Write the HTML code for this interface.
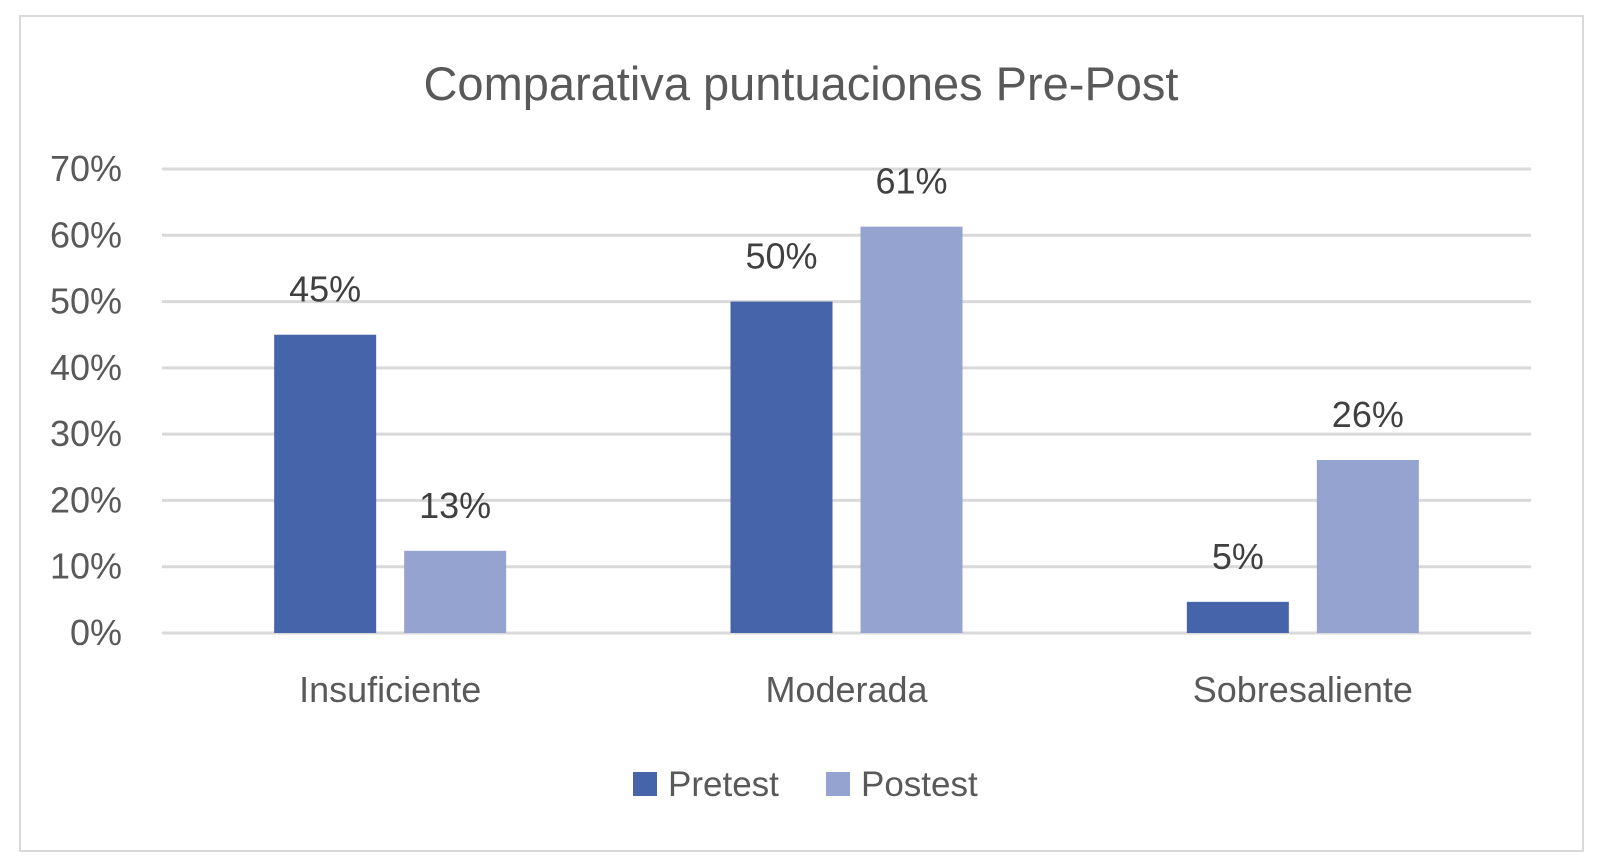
<!DOCTYPE html>
<html><head><meta charset="utf-8"><style>
html,body{margin:0;padding:0;background:#fff;}
svg{display:block;font-family:"Liberation Sans",sans-serif;}
</style></head><body>
<svg id="chart" width="1600" height="864" viewBox="0 0 1600 864">
<rect x="20" y="16" width="1563" height="835" fill="#fff" stroke="#d9d9d9" stroke-width="2"/>
<text x="801" y="100" text-anchor="middle" font-size="47" fill="#595959">Comparativa puntuaciones Pre-Post</text>
<g id="grid"></g><g id="bars"></g><g id="labels"></g>
<g>
<rect x="633" y="772" width="24" height="24" fill="#4564a9"/>
<text x="668" y="796" font-size="35" fill="#595959">Pretest</text>
<rect x="826" y="772" width="24" height="24" fill="#94a3d0"/>
<text x="861" y="796" font-size="35" fill="#595959">Postest</text>
</g>
</svg>
<script>
const categories=["Insuficiente","Moderada","Sobresaliente"];
const pretest=[45,50,4.7];
const postest=[12.4,61.3,26.1];
const pretestLabels=["45%","50%","5%"];
const postestLabels=["13%","61%","26%"];
const ticks=[0,10,20,30,40,50,60,70];
const NS="http://www.w3.org/2000/svg";
const x0=162,x1=1531,y0=633,yMax=70,yTop=169;
const y=v=>y0-(v/yMax)*(y0-yTop);
const band=(x1-x0)/categories.length;
function mk(tag,attrs,parent,txt){const e=document.createElementNS(NS,tag);for(const k in attrs)e.setAttribute(k,attrs[k]);if(txt!==undefined)e.textContent=txt;parent.appendChild(e);return e;}
const grid=document.getElementById('grid'),bars=document.getElementById('bars'),labels=document.getElementById('labels');
ticks.forEach(t=>{
 const l=mk('line',{x1:x0,x2:x1,y1:y(t),y2:y(t),stroke:'#d9d9d9','stroke-width':3},grid);
 
 
 const tx=mk('text',{x:122,y:y(t)+12,'text-anchor':'end','font-size':36,fill:'#595959'},grid,t+'%');
 
 
});
const bw=102,gap=28;
categories.forEach((c,i)=>{
 const cx=x0+band*(i+0.5);
 const series=[[pretest[i],'#4564a9',pretestLabels[i],'pretest',cx-gap/2-bw],[postest[i],'#94a3d0',postestLabels[i],'postest',cx+gap/2]];
 series.forEach(s=>{
  const r=mk('rect',{x:s[4],y:y(s[0]),width:bw,height:y0-y(s[0]),fill:s[1]},bars);
  
  
  const t=mk('text',{x:s[4]+bw/2,y:y(s[0])-33,'text-anchor':'middle','font-size':36,fill:'#404040'},labels,s[2]);
  
  
 });
 const cl=mk('text',{x:cx,y:702,'text-anchor':'middle','font-size':36,fill:'#595959'},labels,c);
 
 
});
</script>
</body></html>
